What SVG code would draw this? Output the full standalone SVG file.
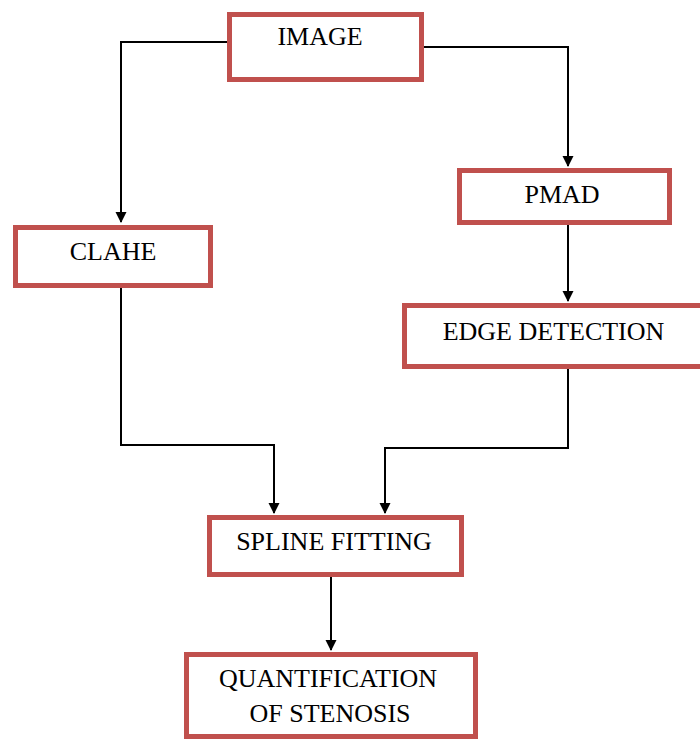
<svg xmlns="http://www.w3.org/2000/svg" width="700" height="740" viewBox="0 0 700 740">
<style>
.box{fill:#fff;stroke:#c0504d;stroke-width:5}
.lbl{font-size:26px;fill:#000;text-anchor:middle}
.con{fill:none;stroke:#000;stroke-width:2}
</style>
<defs>
<marker id="arr" markerWidth="12" markerHeight="12" refX="10" refY="6" orient="auto" markerUnits="userSpaceOnUse">
<path d="M0,0.5 L11,6 L0,11.5 Z" fill="#000"/>
</marker>
</defs>
<rect width="700" height="740" fill="#fff"/>
<g id="connectors">
<path class="con" d="M229,42 H121 V222" marker-end="url(#arr)"/>
<path class="con" d="M422,47 H568 V166" marker-end="url(#arr)"/>
<path class="con" d="M568,225 V301" marker-end="url(#arr)"/>
<path class="con" d="M121,288 V445 H274 V513" marker-end="url(#arr)"/>
<path class="con" d="M568,369 V448 H385 V513" marker-end="url(#arr)"/>
<path class="con" d="M331,577 V650" marker-end="url(#arr)"/>
</g>
<g font-family="'Liberation Serif', 'Times New Roman', serif">
<g id="image">
<rect class="box" x="229.5" y="14.5" width="192" height="65"/>
<text class="lbl" x="320" y="45">IMAGE</text>
</g>
<g id="clahe">
<rect class="box" x="15.5" y="227.5" width="195" height="58"/>
<text class="lbl" x="113" y="260">CLAHE</text>
</g>
<g id="pmad">
<rect class="box" x="459.5" y="170.5" width="210" height="52"/>
<text class="lbl" x="562" y="203">PMAD</text>
</g>
<g id="edge">
<rect class="box" x="404.5" y="305.5" width="310" height="61"/>
<text class="lbl" x="553.5" y="340">EDGE DETECTION</text>
</g>
<g id="spline">
<rect class="box" x="209.5" y="517.5" width="252" height="57"/>
<text class="lbl" x="334" y="550">SPLINE FITTING</text>
</g>
<g id="quant">
<rect class="box" x="186.5" y="654.5" width="289" height="82"/>
<text class="lbl" x="328" y="687">QUANTIFICATION</text>
<text class="lbl" x="330" y="722">OF STENOSIS</text>
</g>
</g>
</svg>
